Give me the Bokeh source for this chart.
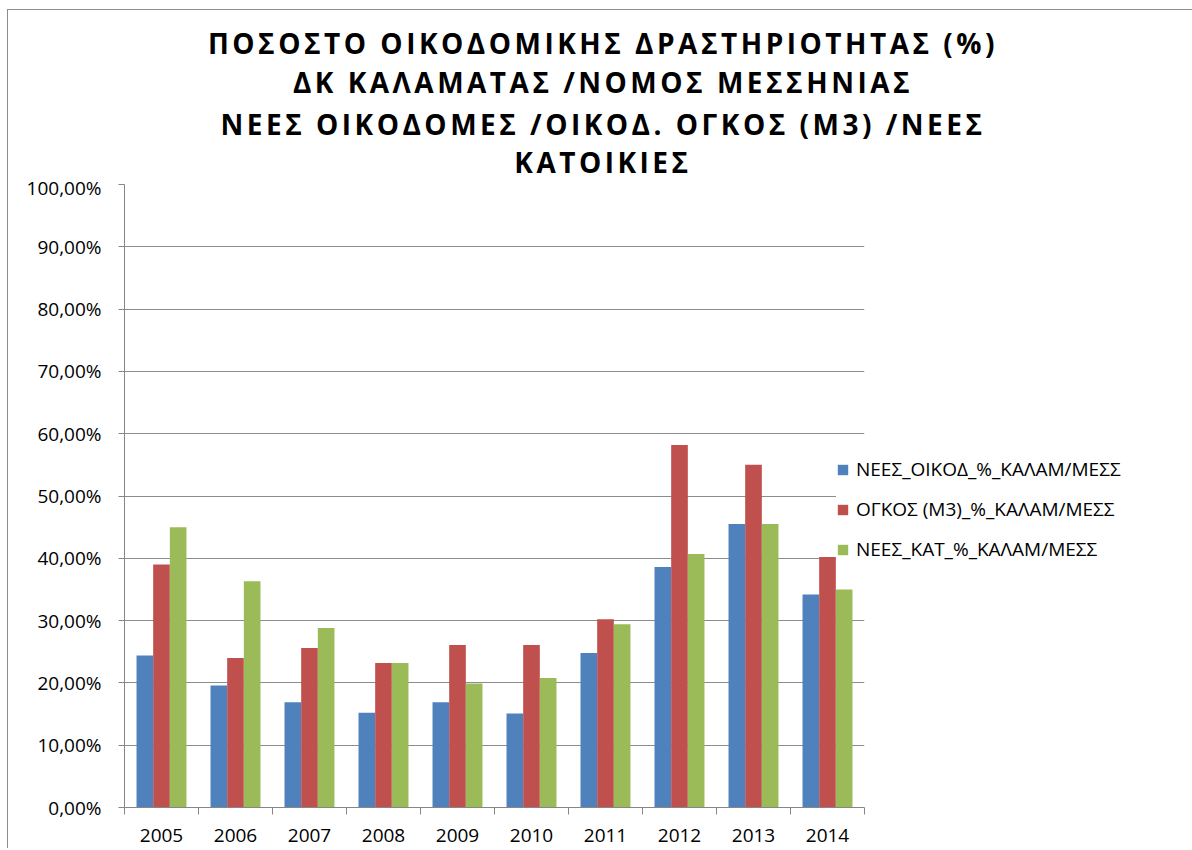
from bokeh.plotting import figure
from bokeh.models import FixedTicker, Legend, LegendItem, ColumnDataSource, Div
from bokeh.layouts import column
from bokeh.embed import file_html
from bokeh.resources import INLINE

years = ["2005", "2006", "2007", "2008", "2009", "2010", "2011", "2012", "2013", "2014"]
series_names = ["ΝΕΕΣ_ΟΙΚΟΔ_%_ΚΑΛΑΜ/ΜΕΣΣ", "ΟΓΚΟΣ (Μ3)_%_ΚΑΛΑΜ/ΜΕΣΣ", "ΝΕΕΣ_ΚΑΤ_%_ΚΑΛΑΜ/ΜΕΣΣ"]
nees_oikod = [24.4, 19.6, 16.9, 15.2, 16.9, 15.1, 24.8, 38.6, 45.5, 34.2]
ogkos_m3 = [39.0, 24.0, 25.6, 23.2, 26.1, 26.1, 30.2, 58.2, 55.0, 40.2]
nees_kat = [45.0, 36.3, 28.8, 23.2, 19.9, 20.8, 29.4, 40.7, 45.5, 35.0]
y_ticks = [0, 10, 20, 30, 40, 50, 60, 70, 80, 90, 100]
y_tick_labels = ["0,00%", "10,00%", "20,00%", "30,00%", "40,00%", "50,00%",
                 "60,00%", "70,00%", "80,00%", "90,00%", "100,00%"]
title_lines = ["ΠΟΣΟΣΤΟ ΟΙΚΟΔΟΜΙΚΗΣ ΔΡΑΣΤΗΡΙΟΤΗΤΑΣ (%)",
               "ΔΚ ΚΑΛΑΜΑΤΑΣ /ΝΟΜΟΣ ΜΕΣΣΗΝΙΑΣ",
               "ΝΕΕΣ ΟΙΚΟΔΟΜΕΣ /ΟΙΚΟΔ. ΟΓΚΟΣ (Μ3) /ΝΕΕΣ",
               "ΚΑΤΟΙΚΙΕΣ"]
colors = ["#4F81BD", "#C0504D", "#9BBB59"]

FONT = "Open Sans"
n = len(years)
idx = list(range(n))
W = 1182

# ---- title (HTML text, letter-spaced like the original) ----
line_tops = [18, 57, 99, 137]
inner = "".join(
    f'<div style="position:absolute;left:4px;top:{t}px;width:{W}px;text-align:center;'
    f'font-family:\'Open Sans\';font-weight:bold;font-size:28px;line-height:30px;'
    f'letter-spacing:3.5px;color:#000;white-space:nowrap;">{line}</div>'
    for t, line in zip(line_tops, title_lines))
title_div = Div(text=f'<div style="position:relative;width:{W}px;height:164px;">{inner}</div>',
                width=W, height=164, margin=0)

# ---- chart ----
p = figure(frame_width=740, frame_height=623, output_backend="svg", toolbar_location=None,
           x_range=(-0.5, n - 0.5), y_range=(0, 100),
           min_border_left=116, min_border_right=0, min_border_top=10, min_border_bottom=41,
           margin=0)
p.title = None
p.outline_line_color = None
p.background_fill_color = "white"
p.border_fill_color = "white"

bw = 0.225
offsets = [-bw, 0.0, bw]
renderers = []
for vals, off, col in zip([nees_oikod, ogkos_m3, nees_kat], offsets, colors):
    src = ColumnDataSource(dict(x=[i + off for i in idx], top=vals))
    r = p.vbar(x="x", top="top", bottom=0, width=bw, source=src,
               fill_color=col, line_color=None)
    renderers.append(r)

# x axis: labels at category centres, tick marks at category boundaries
p.xaxis.ticker = FixedTicker(ticks=idx, minor_ticks=[i - 0.5 for i in range(n + 1)])
p.xaxis.major_label_overrides = {i: y for i, y in zip(idx, years)}
p.xaxis.major_tick_out = 0
p.xaxis.major_tick_in = 0
p.xaxis.minor_tick_out = 7
p.xaxis.minor_tick_in = 0
p.xaxis.minor_tick_line_color = "#868686"
p.xaxis.axis_line_color = "#868686"
p.xaxis.major_label_text_font = FONT
p.xaxis.major_label_text_font_size = "19px"
p.xaxis.major_label_text_color = "#000000"
p.xaxis.major_label_standoff = 14

# y axis
p.yaxis.ticker = FixedTicker(ticks=y_ticks, minor_ticks=[])
p.yaxis.major_label_overrides = {t: l for t, l in zip(y_ticks, y_tick_labels)}
p.yaxis.major_tick_out = 6
p.yaxis.major_tick_in = 0
p.yaxis.major_tick_line_color = "#868686"
p.yaxis.axis_line_color = "#868686"
p.yaxis.major_label_text_font = FONT
p.yaxis.major_label_text_font_size = "19px"
p.yaxis.major_label_text_color = "#000000"
p.yaxis.major_label_standoff = 17

p.xgrid.grid_line_color = None
p.ygrid.grid_line_color = "#8c8c8c"
p.ygrid.grid_line_width = 1
p.ygrid.ticker = FixedTicker(ticks=y_ticks)
p.ygrid.level = "image"

legend = Legend(items=[LegendItem(label=nm, renderers=[r]) for nm, r in zip(series_names, renderers)],
                location=(-28, 245), orientation="vertical",
                padding=0, margin=0, spacing=14,
                glyph_width=13, glyph_height=13, label_height=20,
                label_standoff=7, label_text_font=FONT, label_text_font_size="19px",
                label_text_color="#000000",
                border_line_color=None, background_fill_color="white", background_fill_alpha=1.0)
legend.level = "underlay"
p.add_layout(legend, "right")

layout = column(title_div, p, spacing=0,
                styles={"margin-left": "7px", "margin-top": "9px",
                        "border-left": "1px solid #8c8c8c", "border-top": "1px solid #8c8c8c",
                        "background-color": "white"})

open("out.html", "w").write(file_html(layout, INLINE))
